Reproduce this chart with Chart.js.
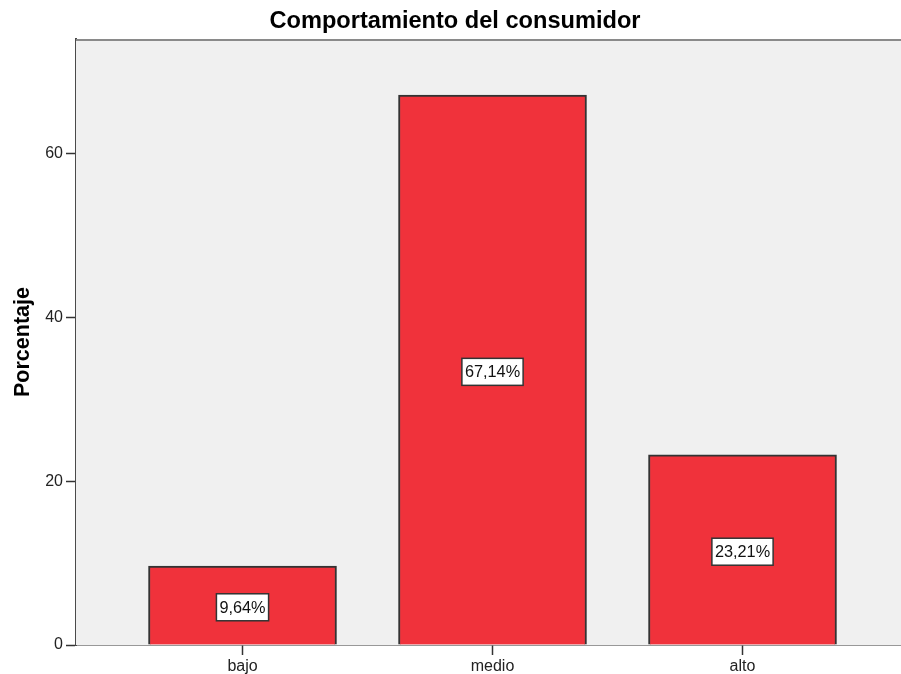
<!DOCTYPE html>
<html>
<head>
<meta charset="utf-8">
<script src="https://cdn.jsdelivr.net/npm/chart.js@4.4.1/dist/chart.umd.min.js"></script>
<style>
  html, body { margin: 0; padding: 0; overflow: hidden; background: #ffffff; }
  #wrap { width: 910px; height: 674px; }
</style>
</head>
<body>
<div id="wrap"><canvas id="chart" width="910" height="674"></canvas></div>
<script>
// Consumer behaviour level (percentage of respondents)
const categories = ['bajo', 'medio', 'alto'];
const percentages = [9.64, 67.14, 23.21];
const yTickValues = [0, 20, 40, 60];

const FONT = "'Liberation Sans', Arial, sans-serif";

// Plot background and top frame line
const plotFrame = {
  id: 'plotFrame',
  beforeDatasetsDraw(chart) {
    const { ctx, chartArea: a } = chart;
    ctx.save();
    ctx.fillStyle = '#f0f0f0';
    ctx.fillRect(a.left, a.top, a.right - a.left, a.bottom - a.top);
    ctx.strokeStyle = '#8a8a8a';
    ctx.lineWidth = 2;
    ctx.beginPath();
    ctx.moveTo(a.left, a.top + 1);
    ctx.lineTo(a.right, a.top + 1);
    ctx.stroke();
    ctx.restore();
  }
};

// Boxed percentage labels in the middle of each bar
const barLabels = {
  id: 'barLabels',
  afterDatasetsDraw(chart) {
    const { ctx } = chart;
    const meta = chart.getDatasetMeta(0);
    ctx.save();
    ctx.font = '16.3px ' + FONT;
    ctx.textAlign = 'center';
    ctx.textBaseline = 'middle';
    meta.data.forEach((bar, i) => {
      const text = percentages[i].toFixed(2).replace('.', ',') + '%';
      const w = ctx.measureText(text).width + 6;
      const h = 27;
      const cx = bar.x;
      const cy = (bar.y + bar.base) / 2 + 2;
      ctx.fillStyle = '#ffffff';
      ctx.fillRect(cx - w / 2, cy - h / 2, w, h);
      ctx.strokeStyle = '#333333';
      ctx.lineWidth = 1.5;
      ctx.strokeRect(cx - w / 2, cy - h / 2, w, h);
      ctx.fillStyle = '#111111';
      ctx.fillText(text, cx, cy + 1);
    });
    ctx.restore();
  }
};

new Chart(document.getElementById('chart'), {
  type: 'bar',
  data: {
    datasets: [{
      data: categories.map((c, i) => ({ x: i + 1, y: percentages[i] })),
      backgroundColor: '#f0323b',
      borderColor: '#333333',
      borderWidth: 2,
      barThickness: 188
    }]
  },
  options: {
    responsive: false,
    animation: false,
    events: [],
    layout: { padding: 0 },
    plugins: {
      legend: { display: false },
      tooltip: { enabled: false },
      title: {
        display: true,
        text: 'Comportamiento del consumidor',
        color: '#000000',
        font: { family: FONT, size: 23.6, weight: 'bold', lineHeight: 1.2 },
        padding: { top: 7.2, bottom: 3.5 }
      }
    },
    scales: {
      x: {
        type: 'linear',
        offset: false,
        min: 0.334,
        max: 3.67,
        afterBuildTicks(axis) { axis.ticks = categories.map((c, i) => ({ value: i + 1 })); },
        afterFit(axis) { axis.height = 29; },
        grid: { display: true, offset: false, drawOnChartArea: false, drawTicks: true, tickLength: 10, tickColor: '#333333', tickWidth: 1.5 },
        border: { display: true, color: '#333333', width: 1.5 },
        ticks: {
          padding: 2,
          maxRotation: 0,
          autoSkip: false,
          color: '#222222',
          font: { family: FONT, size: 16 },
          callback: (v) => categories[v - 1] ?? ''
        }
      },
      y: {
        min: 0,
        max: 74,
        afterBuildTicks(axis) { axis.ticks = yTickValues.map(v => ({ value: v })); },
        afterFit(axis) { axis.width = 76; },
        grid: { display: true, drawOnChartArea: false, drawTicks: true, tickLength: 10, tickColor: '#333333', tickWidth: 1.5 },
        border: { display: true, color: '#4a4a4a', width: 2 },
        ticks: {
          padding: 3,
          color: '#222222',
          font: { family: FONT, size: 16 }
        },
        title: {
          display: true,
          text: 'Porcentaje',
          color: '#000000',
          font: { family: FONT, size: 21.5, weight: 'bold', lineHeight: 1.2 },
          padding: { top: 10, bottom: 0 }
        }
      }
    }
  },
  plugins: [plotFrame, barLabels]
});
</script>
</body>
</html>
